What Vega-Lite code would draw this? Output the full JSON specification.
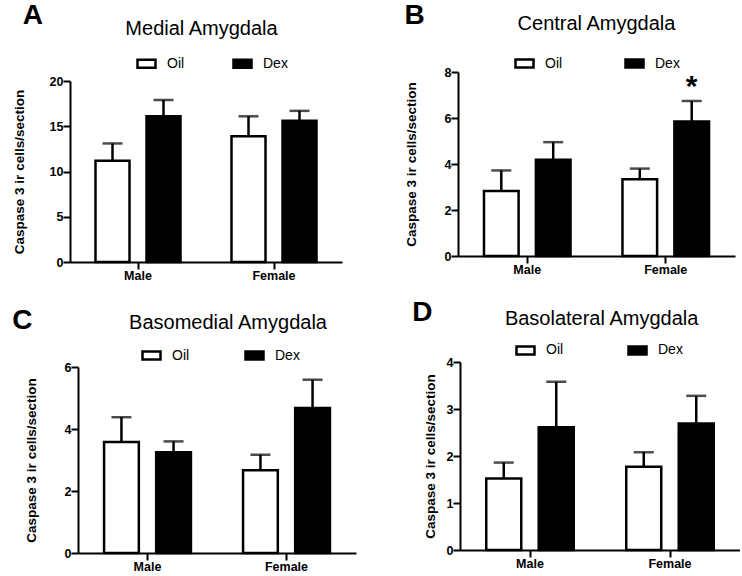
{
  "$schema": "https://vega.github.io/schema/vega-lite/v6.json",
  "background": "white",
  "padding": 0,
  "data": {"values": [
    {"panel": "A", "sex": "Male", "treatment": "Oil", "mean": 11.2, "upper": 13.1, "sig": ""},
    {"panel": "A", "sex": "Male", "treatment": "Dex", "mean": 16.1, "upper": 17.9, "sig": ""},
    {"panel": "A", "sex": "Female", "treatment": "Oil", "mean": 13.9, "upper": 16.1, "sig": ""},
    {"panel": "A", "sex": "Female", "treatment": "Dex", "mean": 15.6, "upper": 16.7, "sig": ""},
    {"panel": "B", "sex": "Male", "treatment": "Oil", "mean": 2.83, "upper": 3.72, "sig": ""},
    {"panel": "B", "sex": "Male", "treatment": "Dex", "mean": 4.18, "upper": 4.95, "sig": ""},
    {"panel": "B", "sex": "Female", "treatment": "Oil", "mean": 3.34, "upper": 3.80, "sig": ""},
    {"panel": "B", "sex": "Female", "treatment": "Dex", "mean": 5.85, "upper": 6.74, "sig": "*"},
    {"panel": "C", "sex": "Male", "treatment": "Oil", "mean": 3.58, "upper": 4.38, "sig": ""},
    {"panel": "C", "sex": "Male", "treatment": "Dex", "mean": 3.25, "upper": 3.60, "sig": ""},
    {"panel": "C", "sex": "Female", "treatment": "Oil", "mean": 2.67, "upper": 3.17, "sig": ""},
    {"panel": "C", "sex": "Female", "treatment": "Dex", "mean": 4.68, "upper": 5.59, "sig": ""},
    {"panel": "D", "sex": "Male", "treatment": "Oil", "mean": 1.52, "upper": 1.86, "sig": ""},
    {"panel": "D", "sex": "Male", "treatment": "Dex", "mean": 2.61, "upper": 3.58, "sig": ""},
    {"panel": "D", "sex": "Female", "treatment": "Oil", "mean": 1.77, "upper": 2.08, "sig": ""},
    {"panel": "D", "sex": "Female", "treatment": "Dex", "mean": 2.69, "upper": 3.28, "sig": ""}
  ]},
  "columns": 4,
  "align": "none",
  "spacing": {"row": 0, "column": 0},
  "resolve": {"scale": {"fill": "independent", "y": "independent", "x": "independent", "xOffset": "independent"}, "legend": {"fill": "independent"}},
  "concat": [
    {"data": {"values": []}, "mark": {"type": "point", "opacity": 0}, "encoding": {}, "width": 1, "height": 1},
    {"data": {"values": []}, "mark": {"type": "point", "opacity": 0}, "encoding": {}, "width": 1, "height": 2},
    {"data": {"values": []}, "mark": {"type": "point", "opacity": 0}, "encoding": {}, "width": 1, "height": 1},
    {"data": {"values": []}, "mark": {"type": "point", "opacity": 0}, "encoding": {}, "width": 1, "height": 2},

    {"data": {"values": []}, "mark": {"type": "point", "opacity": 0}, "encoding": {}, "width": 12, "height": 1},
    {
      "title": {"text": "A", "anchor": "start", "fontSize": 28, "fontWeight": "bold", "offset": -10.7, "dx": 10},
      "resolve": {"scale": {"fill": "independent", "y": "independent", "x": "independent", "xOffset": "independent"}, "legend": {"fill": "independent"}},
      "vconcat": [{
        "width": 272, "height": 181,
        "title": {"text": "Medial Amygdala", "dx": -4.5, "offset": 13.7},
        "transform": [{"filter": "datum.panel == 'A'"}],
        "encoding": {
          "x": {"field": "sex", "type": "nominal", "sort": ["Male", "Female"], "scale": {"paddingInner": 0.375, "paddingOuter": 0.1875}, "axis": {"title": null, "labelAngle": 0}},
          "xOffset": {"field": "treatment", "type": "nominal", "sort": ["Oil", "Dex"], "scale": {"paddingInner": 0.333, "paddingOuter": 0}}
        },
        "layer": [
          {"mark": {"type": "bar"}, "encoding": {
            "y": {"field": "mean", "type": "quantitative", "title": "Caspase 3 ir cells/section", "scale": {"domain": [0, 20], "nice": false}, "axis": {"values": [0, 5, 10, 15, 20], "titlePadding": 22.4}},
            "fill": {"field": "treatment", "type": "nominal", "scale": {"domain": ["Oil", "Dex"], "range": ["white", "black"]}, "legend": {"orient": "none", "legendX": 66, "legendY": -28, "direction": "horizontal", "columnPadding": 43, "title": null}}
          }},
          {"mark": {"type": "rule"}, "encoding": {"y": {"field": "mean", "type": "quantitative", "title": "Caspase 3 ir cells/section"}, "y2": {"field": "upper"}}},
          {"mark": {"type": "tick"}, "encoding": {"y": {"field": "upper", "type": "quantitative", "title": "Caspase 3 ir cells/section"}}}
        ]
      }]
    },
    {"data": {"values": []}, "mark": {"type": "point", "opacity": 0}, "encoding": {}, "width": 56, "height": 1},
    {
      "title": {"text": "B", "anchor": "start", "fontSize": 28, "fontWeight": "bold", "offset": -16.7},
      "resolve": {"scale": {"fill": "independent", "y": "independent", "x": "independent", "xOffset": "independent"}, "legend": {"fill": "independent"}},
      "vconcat": [{
        "width": 277, "height": 184,
        "title": {"text": "Central Amygdala", "offset": 19.2},
        "transform": [{"filter": "datum.panel == 'B'"}],
        "encoding": {
          "x": {"field": "sex", "type": "nominal", "sort": ["Male", "Female"], "scale": {"paddingInner": 0.375, "paddingOuter": 0.1875}, "axis": {"title": null, "labelAngle": 0}},
          "xOffset": {"field": "treatment", "type": "nominal", "sort": ["Oil", "Dex"], "scale": {"paddingInner": 0.333, "paddingOuter": 0}}
        },
        "layer": [
          {"mark": {"type": "bar"}, "encoding": {
            "y": {"field": "mean", "type": "quantitative", "title": "Caspase 3 ir cells/section", "scale": {"domain": [0, 8], "nice": false}, "axis": {"values": [0, 2, 4, 6, 8], "titlePadding": 25.5}},
            "fill": {"field": "treatment", "type": "nominal", "scale": {"domain": ["Oil", "Dex"], "range": ["white", "black"]}, "legend": {"orient": "none", "legendX": 56, "legendY": -19.2, "direction": "horizontal", "columnPadding": 57, "title": null}}
          }},
          {"mark": {"type": "rule"}, "encoding": {"y": {"field": "mean", "type": "quantitative", "title": "Caspase 3 ir cells/section"}, "y2": {"field": "upper"}}},
          {"mark": {"type": "tick"}, "encoding": {"y": {"field": "upper", "type": "quantitative", "title": "Caspase 3 ir cells/section"}}},
          {"mark": {"type": "text", "fontSize": 30, "fontWeight": "bold", "baseline": "alphabetic", "dy": -5}, "encoding": {"y": {"field": "upper", "type": "quantitative", "title": "Caspase 3 ir cells/section"}, "text": {"field": "sig"}}}
        ]
      }]
    },

    {"data": {"values": []}, "mark": {"type": "point", "opacity": 0}, "encoding": {}, "width": 1, "height": 1},
    {"data": {"values": []}, "mark": {"type": "point", "opacity": 0}, "encoding": {}, "width": 1, "height": 13},
    {"data": {"values": []}, "mark": {"type": "point", "opacity": 0}, "encoding": {}, "width": 1, "height": 1},
    {"data": {"values": []}, "mark": {"type": "point", "opacity": 0}, "encoding": {}, "width": 1, "height": 22},

    {"data": {"values": []}, "mark": {"type": "point", "opacity": 0}, "encoding": {}, "width": 12, "height": 1},
    {
      "title": {"text": "C", "anchor": "start", "fontSize": 28, "fontWeight": "bold", "offset": -22.5, "dx": -11.7},
      "resolve": {"scale": {"fill": "independent", "y": "independent", "x": "independent", "xOffset": "independent"}, "legend": {"fill": "independent"}},
      "vconcat": [{
        "width": 278, "height": 186,
        "title": {"text": "Basomedial Amygdala", "dx": 11, "offset": 12},
        "transform": [{"filter": "datum.panel == 'C'"}],
        "encoding": {
          "x": {"field": "sex", "type": "nominal", "sort": ["Male", "Female"], "scale": {"paddingInner": 0.375, "paddingOuter": 0.1875}, "axis": {"title": null, "labelAngle": 0}},
          "xOffset": {"field": "treatment", "type": "nominal", "sort": ["Oil", "Dex"], "scale": {"paddingInner": 0.333, "paddingOuter": 0}}
        },
        "layer": [
          {"mark": {"type": "bar"}, "encoding": {
            "y": {"field": "mean", "type": "quantitative", "title": "Caspase 3 ir cells/section", "scale": {"domain": [0, 6], "nice": false}, "axis": {"values": [0, 2, 4, 6], "titlePadding": 26}},
            "fill": {"field": "treatment", "type": "nominal", "scale": {"domain": ["Oil", "Dex"], "range": ["white", "black"]}, "legend": {"orient": "none", "legendX": 63, "legendY": -22.2, "direction": "horizontal", "columnPadding": 50, "title": null}}
          }},
          {"mark": {"type": "rule"}, "encoding": {"y": {"field": "mean", "type": "quantitative", "title": "Caspase 3 ir cells/section"}, "y2": {"field": "upper"}}},
          {"mark": {"type": "tick"}, "encoding": {"y": {"field": "upper", "type": "quantitative", "title": "Caspase 3 ir cells/section"}}}
        ]
      }]
    },
    {"data": {"values": []}, "mark": {"type": "point", "opacity": 0}, "encoding": {}, "width": 56, "height": 1},
    {
      "title": {"text": "D", "anchor": "start", "fontSize": 28, "fontWeight": "bold", "offset": -18, "dx": -11.5},
      "resolve": {"scale": {"fill": "independent", "y": "independent", "x": "independent", "xOffset": "independent"}, "legend": {"fill": "independent"}},
      "vconcat": [{
        "width": 280, "height": 188,
        "title": {"text": "Basolateral Amygdala", "dx": 1.6, "offset": 11},
        "transform": [{"filter": "datum.panel == 'D'"}],
        "encoding": {
          "x": {"field": "sex", "type": "nominal", "sort": ["Male", "Female"], "scale": {"paddingInner": 0.375, "paddingOuter": 0.1875}, "axis": {"title": null, "labelAngle": 0}},
          "xOffset": {"field": "treatment", "type": "nominal", "sort": ["Oil", "Dex"], "scale": {"paddingInner": 0.333, "paddingOuter": 0}}
        },
        "layer": [
          {"mark": {"type": "bar"}, "encoding": {
            "y": {"field": "mean", "type": "quantitative", "title": "Caspase 3 ir cells/section", "scale": {"domain": [0, 4], "nice": false}, "axis": {"values": [0, 1, 2, 3, 4], "titlePadding": 8.2}},
            "fill": {"field": "treatment", "type": "nominal", "scale": {"domain": ["Oil", "Dex"], "range": ["white", "black"]}, "legend": {"orient": "none", "legendX": 55, "legendY": -22.3, "direction": "horizontal", "columnPadding": 59, "title": null}}
          }},
          {"mark": {"type": "rule"}, "encoding": {"y": {"field": "mean", "type": "quantitative", "title": "Caspase 3 ir cells/section"}, "y2": {"field": "upper"}}},
          {"mark": {"type": "tick"}, "encoding": {"y": {"field": "upper", "type": "quantitative", "title": "Caspase 3 ir cells/section"}}}
        ]
      }]
    }
  ],
  "config": {
    "font": "Liberation Sans",
    "view": {"stroke": null},
    "title": {"font": "Liberation Sans", "fontSize": 20, "fontWeight": "normal", "color": "black", "anchor": "middle", "offset": 6},
    "axis": {"labelFont": "Liberation Sans", "labelFontSize": 12.5, "labelFontWeight": "bold", "labelColor": "black", "titleFont": "Liberation Sans", "titleFontSize": 13.5, "titleFontWeight": "bold", "titleColor": "black", "domainColor": "black", "domainWidth": 2, "tickColor": "black", "tickWidth": 2, "tickSize": 7, "grid": false, "labelPadding": 0},
    "legend": {"labelFont": "Liberation Sans", "labelFontSize": 14, "labelColor": "black", "symbolType": "M-1,-0.45L1,-0.45L1,0.45L-1,0.45Z", "symbolSize": 324, "symbolStrokeColor": "black", "symbolStrokeWidth": 2.5, "padding": 0, "labelOffset": 10},
    "bar": {"stroke": "black", "strokeWidth": 2.5},
    "rule": {"color": "black", "strokeWidth": 2.5},
    "tick": {"color": "black", "thickness": 2.5, "size": 20},
    "text": {"color": "black"}
  }
}
